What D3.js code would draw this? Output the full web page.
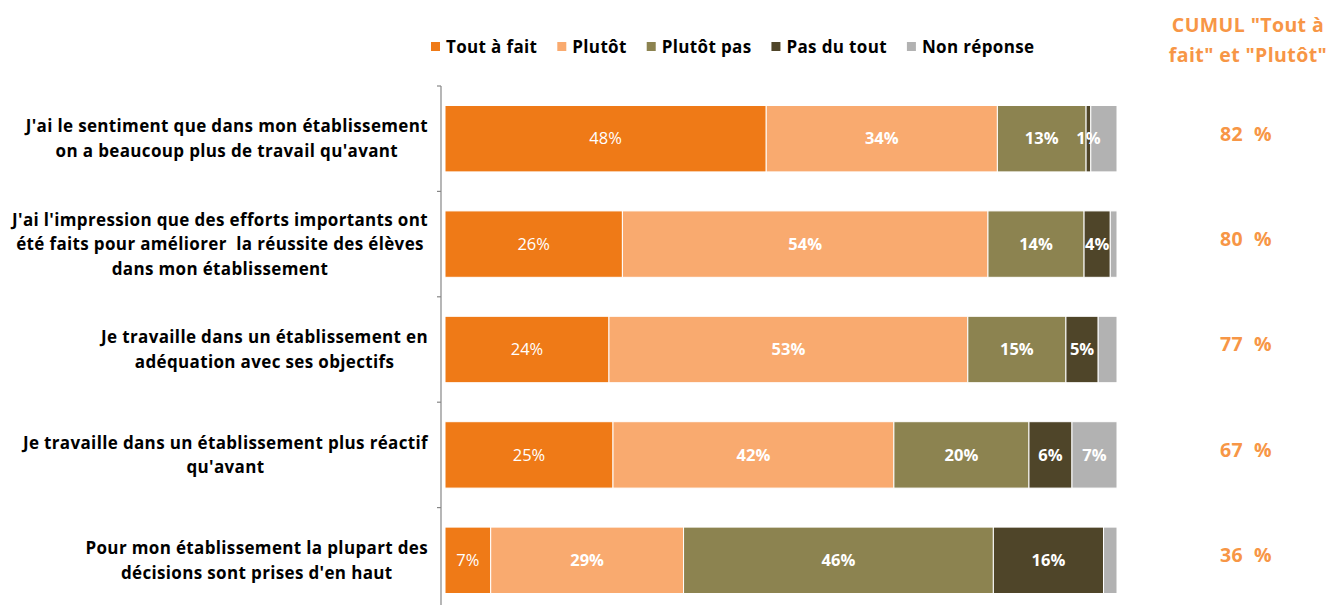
<!DOCTYPE html>
<html>
  <head>
    <meta charset="utf-8">
    <script src="https://d3js.org/d3.v7.min.js"></script>
    <style>
      body { margin:0; background:#fff; }
      svg { display:block; font-family: "Open Sans", Lato, sans-serif; }
      text { white-space: pre; }
    </style>
  </head>
  <body>
    <script>
    var width = 1328, height = 605;

    // questions, one array of lines per row
    var questions = [
      ["J'ai le sentiment que dans mon établissement", "on a beaucoup plus de travail qu'avant"],
      ["J'ai l'impression que des efforts importants ont", "été faits pour améliorer  la réussite des élèves", "dans mon établissement"],
      ["Je travaille dans un établissement en", "adéquation avec ses objectifs"],
      ["Je travaille dans un établissement plus réactif", "qu'avant"],
      ["Pour mon établissement la plupart des", "décisions sont prises d'en haut"]
    ];
    var series = ["Tout à fait", "Plutôt", "Plutôt pas", "Pas du tout", "Non réponse"];
    var colors = ["#EF7A17", "#F9AA6F", "#8C8350", "#4F4529", "#B2B2B2"];

    // percentages per series (one value per question)
    var toutAFait  = [47.8, 26.4, 24.4, 25.0, 6.8];
    var plutot     = [34.4, 54.4, 53.4, 41.8, 28.7];
    var plutotPas  = [13.2, 14.3, 14.6, 20.1, 46.1];
    var pasDuTout  = [0.7, 3.9, 4.8, 6.4, 16.4];
    var nonReponse = [3.9, 1.0, 2.8, 6.7, 2.0];
    // labels printed in the bars ("" = no label)
    var lblTout   = ["48%", "26%", "24%", "25%", "7%"];
    var lblPlutot = ["34%", "54%", "53%", "42%", "29%"];
    var lblPas    = ["13%", "14%", "15%", "20%", "46%"];
    var lblPasDu  = ["1%", "4%", "5%", "6%", "16%"];
    var lblNon    = ["", "", "", "7%", ""];
    var cumul = [82, 80, 77, 67, 36];

    var values = [toutAFait, plutot, plutotPas, pasDuTout, nonReponse];
    var labels = [lblTout, lblPlutot, lblPas, lblPasDu, lblNon];

    var svg = d3.select("body").append("svg")
        .attr("width", width).attr("height", height);

    var x = d3.scaleLinear().domain([0, 100]).range([445, 1117]);
    var y = d3.scaleBand().domain(d3.range(questions.length))
        .range([86, 613]).paddingInner(0.37).paddingOuter(0.185);

    // build stacked rows
    var rows = questions.map(function(q, i) {
      var acc = 0;
      return values.map(function(v, s) {
        var seg = {row: i, s: s, x0: acc, x1: acc + v[i], label: labels[s][i]};
        acc += v[i];
        return seg;
      });
    });
    var segs = [].concat.apply([], rows);

    svg.append("g").selectAll("rect")
      .data(segs).enter().append("rect")
        .attr("x", function(d) { return x(d.x0); })
        .attr("y", function(d) { return y(d.row); })
        .attr("width", function(d) { return x(d.x1) - x(d.x0); })
        .attr("height", y.bandwidth())
        .attr("fill", function(d) { return colors[d.s]; })
        .attr("stroke", "#fff")
        .attr("stroke-width", 1);

    svg.append("g").selectAll("text")
      .data(segs.filter(function(d) { return d.label; })).enter().append("text")
        .attr("x", function(d) { return (x(d.x0) + x(d.x1)) / 2; })
        .attr("y", function(d) { return y(d.row) + y.bandwidth() / 2; })
        .attr("dy", "0.35em")
        .attr("text-anchor", "middle")
        .attr("fill", "#fff")
        .attr("font-size", 16.5)
        .attr("font-weight", function(d) { return d.s === 0 ? "normal" : "bold"; })
        .text(function(d) { return d.label; });

    // vertical axis with ticks at band boundaries
    var axisX = 441;
    var axis = svg.append("g").attr("stroke", "#868686").attr("stroke-width", 1.2);
    axis.append("line").attr("x1", axisX).attr("x2", axisX)
        .attr("y1", y.range()[0]).attr("y2", height);
    d3.range(questions.length).forEach(function(i) {
      var ty = y(i) - y.step() * y.paddingInner() / 2;
      axis.append("line").attr("x1", axisX - 4).attr("x2", axisX)
          .attr("y1", ty).attr("y2", ty);
    });

    // question labels: block right-aligned at 428, lines centred within the block
    questions.forEach(function(lines, i) {
      var g = svg.append("g");
      var cy = y(i) + y.bandwidth() / 2;
      var lh = 24.5;
      var texts = lines.map(function(l, k) {
        return g.append("text")
          .attr("y", cy + (k - (lines.length - 1) / 2) * lh)
          .attr("dy", "0.35em")
          .attr("text-anchor", "middle")
          .attr("font-size", 17)
          .attr("letter-spacing", 0.35)
          .attr("font-weight", "bold")
          .attr("fill", "#000")
          .text(l);
      });
      var maxW = d3.max(texts, function(t) { return t.node().getComputedTextLength(); });
      // squeeze if the font runs wider than the reference column
      var scale = Math.min(1, 420 / maxW);
      texts.forEach(function(t) {
        if (scale < 1) t.attr("textLength", t.node().getComputedTextLength() * scale).attr("lengthAdjust", "spacingAndGlyphs");
        t.attr("x", 428 - maxW * scale / 2);
      });
    });

    // legend
    var legend = svg.append("g");
    var lx = 431;
    series.forEach(function(s, i) {
      legend.append("rect").attr("x", lx).attr("y", 42).attr("width", 9).attr("height", 9)
          .attr("fill", colors[i]);
      var t = legend.append("text").attr("x", lx + 15).attr("y", 47).attr("dy", "0.35em")
          .attr("font-size", 17).attr("letter-spacing", 0.35)
          .attr("font-weight", "bold").attr("fill", "#000").text(s);
      lx += 15 + t.node().getComputedTextLength() + 20;
    });

    // cumul column
    var cumColor = "#F79646";
    svg.append("text").attr("x", 1248).attr("y", 25).attr("dy", "0.35em")
        .attr("text-anchor", "middle").attr("font-size", 19.5).attr("letter-spacing", 0.4)
        .attr("font-weight", "bold").attr("fill", cumColor).text("CUMUL \"Tout à");
    svg.append("text").attr("x", 1248).attr("y", 55).attr("dy", "0.35em")
        .attr("text-anchor", "middle").attr("font-size", 19.5).attr("letter-spacing", 0.4)
        .attr("font-weight", "bold").attr("fill", cumColor).text("fait\" et \"Plutôt\"");
    svg.append("g").selectAll("text")
      .data(cumul).enter().append("text")
        .attr("x", 1246)
        .attr("y", function(d, i) { return y(i) + y.bandwidth() / 2 - 5; })
        .attr("dy", "0.35em")
        .attr("text-anchor", "middle")
        .attr("font-size", 19.5)
        .attr("letter-spacing", 0.4)
        .attr("font-weight", "bold")
        .attr("fill", cumColor)
        .text(function(d) { return d + "  %"; });
    </script>
  </body>
</html>
